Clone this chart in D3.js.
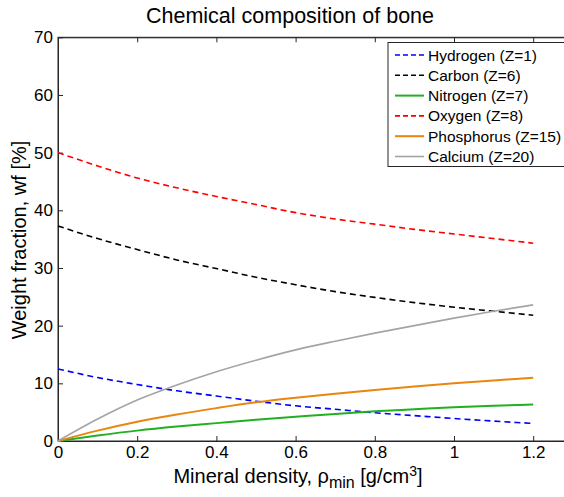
<!DOCTYPE html>
<html>
<head>
<meta charset="utf-8">
<script src="https://d3js.org/d3.v7.min.js"></script>
<style>
	body { margin: 0; background: #fff; }
	svg { font-family: Arial, "Liberation Sans", sans-serif; }
</style>
</head>
<body>
<div id="chart"></div>
<script>

// Mineral density [g/cm3]
var density = [0, 0.1, 0.2, 0.3, 0.4, 0.5, 0.6, 0.7, 0.8, 0.9, 1.0, 1.1, 1.2];

// Weight fractions [%]
var hydrogen   = [12.5, 11.0, 9.8, 8.7, 7.8, 6.9, 6.1, 5.5, 4.9, 4.4, 3.9, 3.45, 3.05];
var carbon     = [37.3, 35.1, 33.2, 31.4, 29.9, 28.4, 27.1, 25.9, 24.9, 24.0, 23.2, 22.5, 21.8];
var nitrogen   = [0, 0.95, 1.8, 2.5, 3.1, 3.7, 4.2, 4.7, 5.15, 5.5, 5.85, 6.1, 6.35];
var oxygen     = [50, 47.7, 45.6, 43.9, 42.4, 41.0, 39.6, 38.5, 37.6, 36.7, 35.9, 35.1, 34.3];
var phosphorus = [0, 1.8, 3.35, 4.6, 5.7, 6.7, 7.5, 8.2, 8.85, 9.45, 10.0, 10.5, 10.95];
var calcium    = [0, 3.8, 7.1, 9.7, 12.0, 14.0, 15.8, 17.3, 18.7, 20.0, 21.3, 22.5, 23.6];

var seriesNames = ['Hydrogen (Z=1)', 'Carbon (Z=6)', 'Nitrogen (Z=7)', 'Oxygen (Z=8)', 'Phosphorus (Z=15)', 'Calcium (Z=20)'];

var xTicks = [0, 0.2, 0.4, 0.6, 0.8, 1, 1.2];
var yTicks = [0, 10, 20, 30, 40, 50, 60, 70];

var series = [
	{name: seriesNames[0], values: hydrogen,   color: '#0000ff', dash: '6,4', width: 1.6},
	{name: seriesNames[1], values: carbon,     color: '#000000', dash: '6,4', width: 1.6},
	{name: seriesNames[2], values: nitrogen,   color: '#22b022', dash: null,  width: 2},
	{name: seriesNames[3], values: oxygen,     color: '#ff0000', dash: '6,4', width: 1.6},
	{name: seriesNames[4], values: phosphorus, color: '#e8860e', dash: null,  width: 2},
	{name: seriesNames[5], values: calcium,    color: '#a4a4a4', dash: null,  width: 1.6}
];

var width = 564, height = 497;
var plotLeft = 58, plotTop = 37.3, plotBottom = 441;

var svg = d3.select('#chart').append('svg')
	.attr('width', width)
	.attr('height', height);

var x = d3.scaleLinear().domain([0, 1.3]).range([plotLeft, plotLeft + 1.3 * 396]);
var y = d3.scaleLinear().domain([0, 70]).range([plotBottom, plotTop]);

// Plot box
svg.append('rect')
	.attr('x', x(0)).attr('y', y(70))
	.attr('width', x(1.3) - x(0)).attr('height', y(0) - y(70))
	.attr('fill', '#fff')
	.attr('stroke', '#262626')
	.attr('stroke-width', 1);

// Axes with inward ticks (MATLAB style)
var fmt = (d) => d3.format('~g')(d);

var xAxis = svg.append('g')
	.attr('transform', 'translate(0,' + plotBottom + ')')
	.call(d3.axisBottom(x).tickValues(xTicks).tickFormat(fmt).tickSizeInner(-5).tickSizeOuter(0).tickPadding(5));

var xAxisTop = svg.append('g')
	.attr('transform', 'translate(0,' + plotTop + ')')
	.call(d3.axisTop(x).tickValues(xTicks).tickFormat('').tickSizeInner(-5).tickSizeOuter(0));

var yAxis = svg.append('g')
	.attr('transform', 'translate(' + plotLeft + ',0)')
	.call(d3.axisLeft(y).tickValues(yTicks).tickSizeInner(-5).tickSizeOuter(0).tickPadding(5));

[xAxis, xAxisTop, yAxis].forEach((g) => {
	g.select('.domain').attr('stroke', '#262626');
	g.selectAll('.tick line').attr('stroke', '#262626');
	g.selectAll('.tick text')
		.attr('fill', '#000')
		.style('font-size', '17px')
		.style('font-family', 'Arial, "Liberation Sans", sans-serif');
});

// Lines
var line = d3.line()
	.x((d, i) => x(density[i]))
	.y((d) => y(d))
	.curve(d3.curveMonotoneX);

svg.append('g').selectAll('path')
	.data(series)
	.enter()
	.append('path')
	.attr('d', (d) => line(d.values))
	.attr('fill', 'none')
	.attr('stroke', (d) => d.color)
	.attr('stroke-width', (d) => d.width)
	.attr('stroke-dasharray', (d) => d.dash);

// Legend
var legend = svg.append('g');

legend.append('rect')
	.attr('x', 388).attr('y', 42.5)
	.attr('width', 190).attr('height', 124)
	.attr('fill', '#fff')
	.attr('stroke', '#262626')
	.attr('stroke-width', 1);

var items = legend.selectAll('g.item')
	.data(series)
	.enter()
	.append('g')
	.attr('class', 'item')
	.attr('transform', (d, i) => 'translate(0,' + (55 + i * 20.3) + ')');

items.append('line')
	.attr('x1', 395).attr('x2', 424)
	.attr('stroke', (d) => d.color)
	.attr('stroke-width', (d) => d.width)
	.attr('stroke-dasharray', (d) => d.dash ? '5,3' : null);

items.append('text')
	.attr('x', 428)
	.attr('dy', '0.36em')
	.style('font-size', '15.5px')
	.text((d) => d.name);

// Title and axis labels
svg.append('text')
	.attr('x', 290).attr('y', 23)
	.attr('text-anchor', 'middle')
	.style('font-size', '21.5px')
	.text('Chemical composition of bone');

var xLabel = svg.append('text')
	.attr('x', 298).attr('y', 483)
	.attr('text-anchor', 'middle')
	.style('font-size', '20px');

xLabel.append('tspan').text('Mineral density, ');
xLabel.append('tspan').style('font-size', '20px').text('ρ');
xLabel.append('tspan').attr('dy', 5).style('font-size', '16px').text('min');
xLabel.append('tspan').attr('dy', -5).text(' [g/cm');
xLabel.append('tspan').attr('dy', -7).style('font-size', '14px').text('3');
xLabel.append('tspan').attr('dy', 7).text(']');

svg.append('text')
	.attr('transform', 'translate(26,' + 240 + ') rotate(-90)')
	.attr('text-anchor', 'middle')
	.style('font-size', '20px')
	.text('Weight fraction, wf [%]');

</script>
</body>
</html>
